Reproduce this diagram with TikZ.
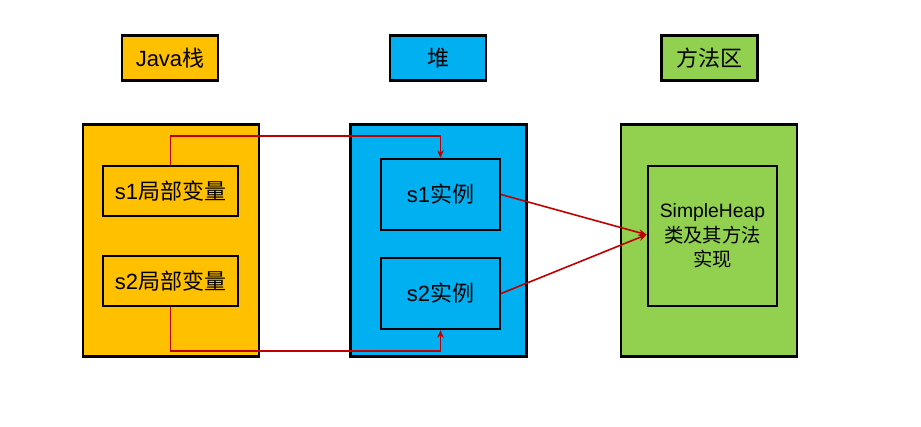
\documentclass[tikz,border=0pt]{standalone}
\usepackage{fontspec}
\setmainfont{Liberation Sans}
\newfontfamily\cjk{Noto Sans CJK SC}
\usetikzlibrary{arrows.meta}

\definecolor{stackcol}{RGB}{255,192,0}
\definecolor{heapcol}{RGB}{0,176,240}
\definecolor{methodcol}{RGB}{146,208,80}
\definecolor{refcol}{RGB}{192,0,0}

\tikzset{every picture/.style={line width=0.75pt}}
\tikzset{
	titlebox/.style={draw=black, line width=1.8pt, minimum width=72pt, minimum height=34pt, inner sep=0pt, font=\fontsize{16.5}{19}\selectfont},
	areabox/.style={draw=black, line width=1.8pt, minimum width=132pt, minimum height=174pt, inner sep=0pt},
	itembox/.style={draw=black, line width=1.8pt, inner sep=0pt, font=\fontsize{16.5}{19}\selectfont},
	refline/.style={draw=refcol, line width=1.2pt, -{Stealth[length=6pt,width=5pt]}},
}

\begin{document}
\begin{tikzpicture}[x=0.75pt,y=0.75pt,yscale=-1,xscale=1]
	\useasboundingbox (0,0) rectangle (921,426);

	% Titles
	\node [titlebox, fill=stackcol] (stacktitle) at (170,58) {Java{\cjk 栈}};
	\node [titlebox, fill=heapcol] (heaptitle) at (438,58) {\cjk 堆};
	\node [titlebox, fill=methodcol] (methodtitle) at (709.5,58) {\cjk 方法区};

	% Areas
	\node [areabox, fill=stackcol] (stack) at (171,240.5) {};
	\node [areabox, fill=heapcol] (heap) at (438.5,240.5) {};
	\node [areabox, fill=methodcol] (method) at (709,240.5) {};

	% Local variables
	\node [itembox, minimum width=101pt, minimum height=37.5pt] (s1var) at (170.5,191) {s1{\cjk 局部变量}};
	\node [itembox, minimum width=101pt, minimum height=37.5pt] (s2var) at (170.5,281) {s2{\cjk 局部变量}};

	% Instances
	\node [itembox, minimum width=89pt, minimum height=53pt] (s1obj) at (440.5,194.5) {s1{\cjk 实例}};
	\node [itembox, minimum width=89pt, minimum height=53pt] (s2obj) at (440.5,293.5) {s2{\cjk 实例}};

	% Class
	\node [itembox, minimum width=97pt, minimum height=105pt, align=center, font=\fontsize{14.5}{18.5}\selectfont] (simpleheap) at (712.5,236) {SimpleHeap\\{\cjk 类及其方法}\\{\cjk 实现}};

	% References
	\draw [refline] (s1var.north) -- ++(0,-29) -| (s1obj.north);
	\draw [refline] (s2var.south) -- ++(0,44) -| (s2obj.south);
	\draw [refline] (s1obj.east) -- ([yshift=-1pt]simpleheap.west);
	\draw [refline] (s2obj.east) -- ([yshift=-1pt]simpleheap.west);
\end{tikzpicture}
\end{document}
